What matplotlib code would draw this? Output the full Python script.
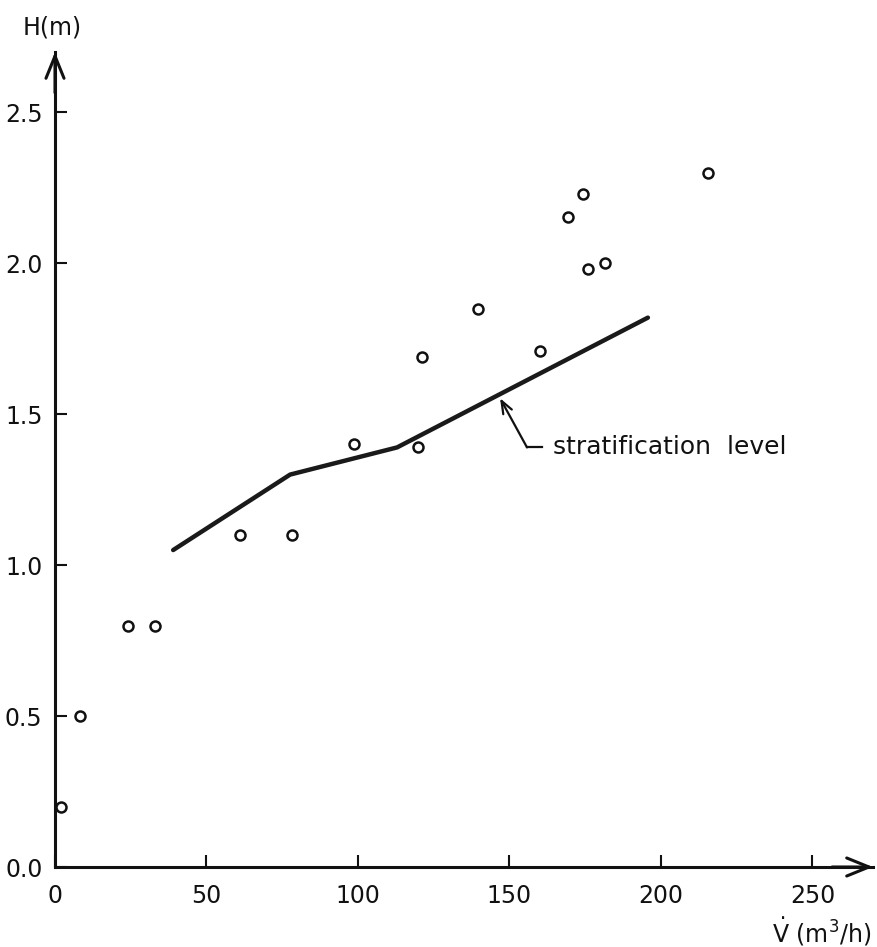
import matplotlib
matplotlib.use("Agg")
import matplotlib.pyplot as plt

plt.rcParams['font.family'] = ['DejaVu Sans']
plt.rcParams['mathtext.fontset'] = 'dejavusans'

# measured points (open circles)
flow_pts = [2, 8.2, 24.1, 33, 61, 78.2, 98.7, 119.8, 121, 139.6, 160, 169.4, 174.2, 176, 181.5, 215.5]
height_pts = [0.20, 0.50, 0.80, 0.80, 1.10, 1.10, 1.40, 1.39, 1.69, 1.85, 1.71, 2.155, 2.23, 1.98, 2.00, 2.30]

# stratification level line
flow_line = [39, 77.6, 112.9, 195.7]
height_line = [1.05, 1.30, 1.39, 1.82]

x_ticks = [0, 50, 100, 150, 200, 250]
x_ticklabels = ['0', '50', '100', '150', '200', '250']
y_ticks = [0.0, 0.5, 1.0, 1.5, 2.0, 2.5]
y_ticklabels = ['0.0', '0.5', '1.0', '1.5', '2.0', '2.5']

annot_text = 'stratification  level'

fig = plt.figure(figsize=(8.77, 9.47), dpi=100)
ax = fig.add_axes([55/877, 80/947, 818/877, 815/947])

ax.plot(flow_line, height_line, color='#1a1a1a', lw=3.2, solid_capstyle='round',
        solid_joinstyle='round', zorder=3)
ax.plot(flow_pts, height_pts, linestyle='none', marker='o', ms=7.2, mew=1.8,
        mfc='none', mec='#111111', zorder=4)

ax.set_xlim(0, 270)
ax.set_ylim(0, 2.70)
ax.set_xticks(x_ticks)
ax.set_xticklabels(x_ticklabels)
ax.set_yticks(y_ticks)
ax.set_yticklabels(y_ticklabels)

for s in ['top', 'right']:
    ax.spines[s].set_visible(False)
for s in ['left', 'bottom']:
    ax.spines[s].set_linewidth(2.2)
    ax.spines[s].set_color('#111111')

ax.tick_params(axis='both', direction='in', length=8.5, width=1.5, colors='#111111',
               labelsize=17)
ax.tick_params(axis='x', pad=12)
ax.tick_params(axis='y', pad=9)

# axis arrowheads
arrow_style = '->,head_length=1.6,head_width=0.65'
ax.annotate('', xy=(1.0, 0), xytext=(0.95, 0), xycoords='axes fraction',
            textcoords='axes fraction',
            arrowprops=dict(arrowstyle=arrow_style, lw=2.2, color='#111111',
                            mutation_scale=10, shrinkA=0, shrinkB=0), annotation_clip=False)
ax.annotate('', xy=(0, 1.0), xytext=(0, 0.95), xycoords='axes fraction',
            textcoords='axes fraction',
            arrowprops=dict(arrowstyle=arrow_style, lw=2.2, color='#111111',
                            mutation_scale=10, shrinkA=0, shrinkB=0), annotation_clip=False)

# annotation leader
ax.plot([155.8, 160.7], [1.39, 1.39], color='#111111', lw=1.6)
ax.annotate('', xy=(146.9, 1.553), xytext=(155.8, 1.39),
            arrowprops=dict(arrowstyle='->,head_length=0.9,head_width=0.35', lw=1.6,
                            color='#111111', mutation_scale=10, shrinkA=0, shrinkB=0))
ax.text(164.4, 1.39, annot_text, fontsize=18, va='center', ha='left', color='#111111')

fig.text(52/877, 1 - 28/947, 'H(m)', fontsize=17, ha='center', va='center', color='#111111')
fig.text(822/877, 1 - 932/947, r'$\dot{\mathrm{V}}$ (m$^{3}$/h)', fontsize=17,
         ha='center', va='center', color='#111111')

fig.savefig('out.png', dpi=100, facecolor='white')
